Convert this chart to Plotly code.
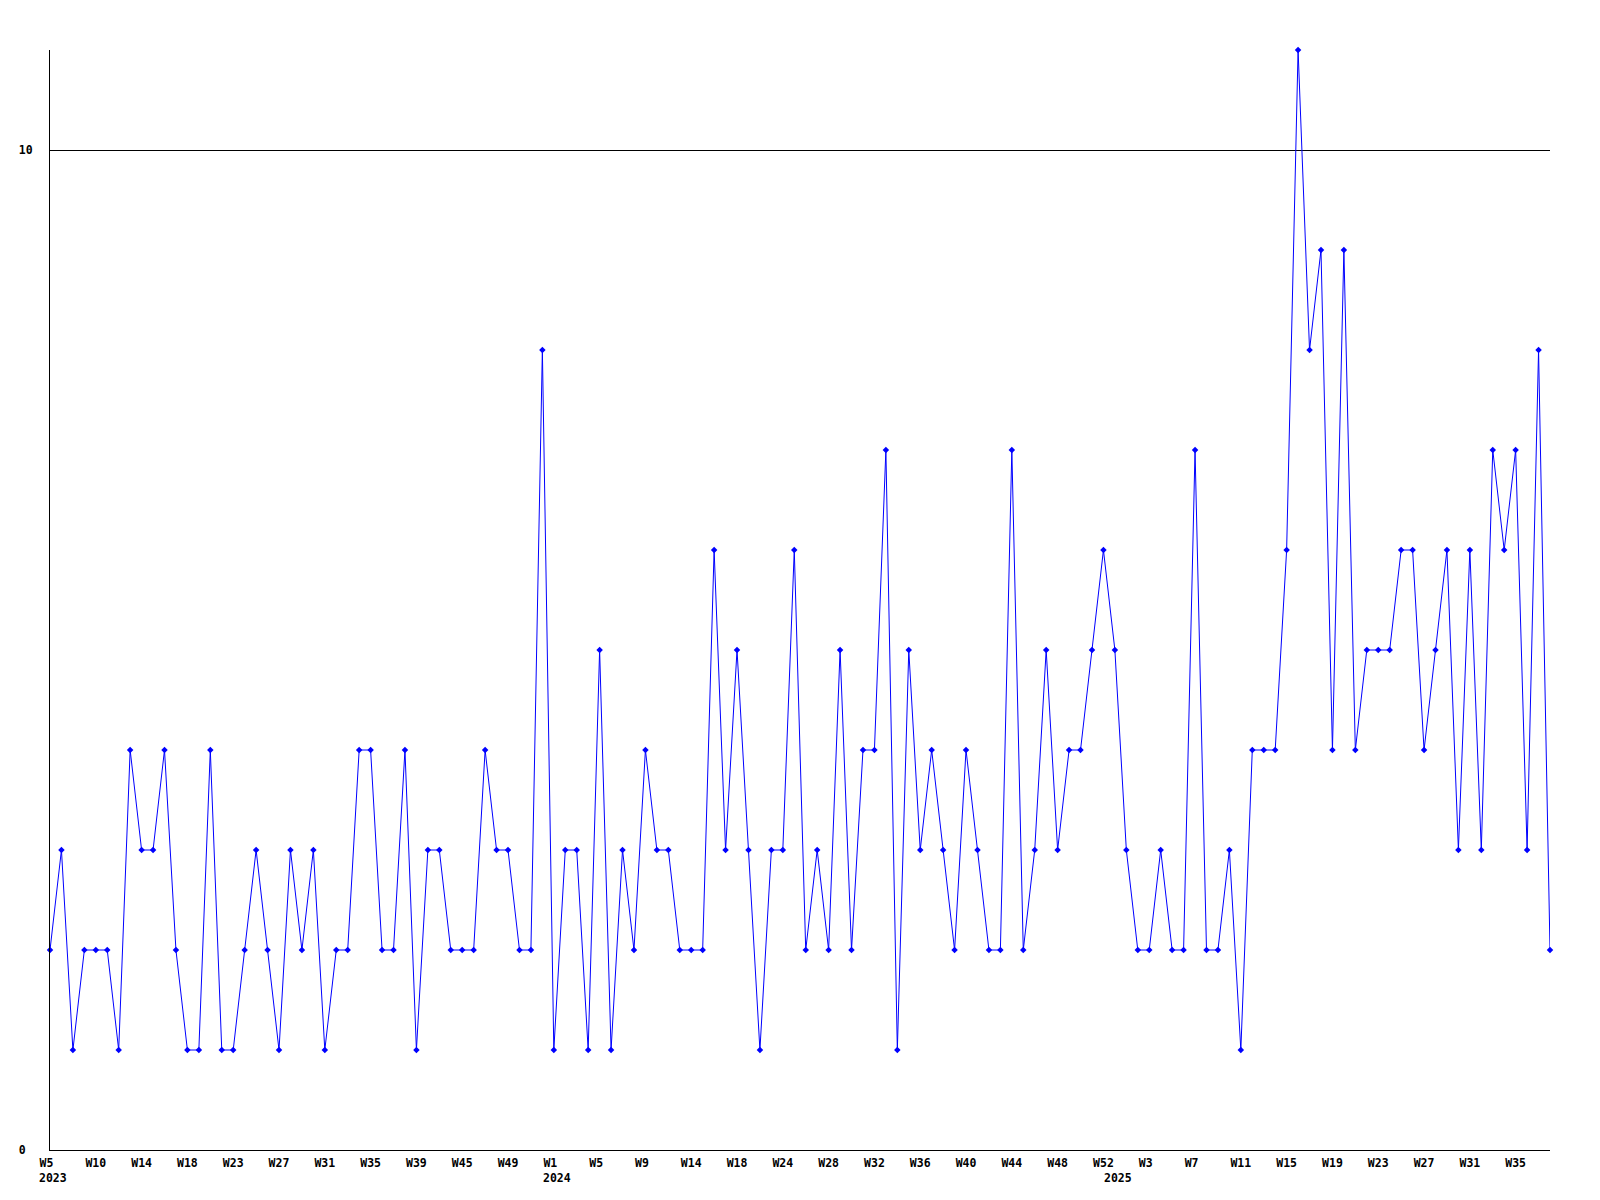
import plotly.graph_objects as go

# weekly counts, one value per point
values = [
    2, 3, 1, 2, 2, 2, 1, 4, 3, 3, 4, 2, 1, 1, 4, 1, 1, 2, 3, 2,
    1, 3, 2, 3, 1, 2, 2, 4, 4, 2, 2, 4, 1, 3, 3, 2, 2, 2, 4, 3,
    3, 2, 2, 8, 1, 3, 3, 1, 5, 1, 3, 2, 4, 3, 3, 2, 2, 2, 6, 3,
    5, 3, 1, 3, 3, 6, 2, 3, 2, 5, 2, 4, 4, 7, 1, 5, 3, 4, 3, 2,
    4, 3, 2, 2, 7, 2, 3, 5, 3, 4, 4, 5, 6, 5, 3, 2, 2, 3, 2, 2,
    7, 2, 2, 3, 1, 4, 4, 4, 6, 11, 8, 9, 4, 9, 4, 5, 5, 5, 6, 6,
    4, 5, 6, 3, 6, 3, 7, 6, 7, 3, 8, 2,
]

# one x label every 4 points
week_labels = [
    "W5", "W10", "W14", "W18", "W23", "W27", "W31", "W35", "W39", "W45", "W49",
    "W1", "W5", "W9", "W14", "W18", "W24", "W28", "W32", "W36", "W40", "W44", "W48", "W52",
    "W3", "W7", "W11", "W15", "W19", "W23", "W27", "W31", "W35",
]
label_step = 4

years = ["2023", "2024", "2025"]
year_start_index = [0, 44, 93]

y_ticks = [0, 10]

FONT = dict(family="DejaVu Sans Mono", size=11.5, color="black", weight="bold")
NBSP = "\u00a0"

x = list(range(len(values)))
tickvals = [i * label_step for i in range(len(week_labels))]
# pad two-char labels so all start at the same offset from their point
ticktext = [w if len(w) >= 3 else w + NBSP for w in week_labels]

fig = go.Figure(go.Scatter(
    x=x, y=values, mode="lines+markers",
    line=dict(color="#0000ff", width=1),
    marker=dict(symbol="diamond", size=5, color="#0000ff"),
    cliponaxis=False, showlegend=False,
))

for yr, idx in zip(years, year_start_index):
    fig.add_annotation(
        x=idx, y=0, xref="x", yref="paper", text=yr, showarrow=False,
        xanchor="left", yanchor="top", xshift=-13, yshift=-19, font=FONT,
    )

# page body has an 8px margin, so the figure is trimmed by that much
fig.update_layout(
    width=1592, height=1192,
    margin=dict(l=42, r=50, t=42, b=50),
    paper_bgcolor="white", plot_bgcolor="white",
    font=FONT,
    xaxis=dict(
        range=[0, len(values) - 1], tickvals=tickvals, ticktext=ticktext,
        ticks="", showgrid=False, zeroline=False,
        showline=True, linecolor="black", linewidth=1,
        tickfont=FONT, ticklabelstandoff=2,
    ),
    yaxis=dict(
        range=[0, 11], tickvals=y_ticks,
        ticktext=[f"{v}" if v >= 10 else f"{v}{NBSP}" for v in y_ticks],
        ticks="", showgrid=True, gridcolor="black", gridwidth=1, zeroline=False,
        showline=True, linecolor="black", linewidth=1,
        tickfont=FONT, ticklabelstandoff=14,
    ),
)

fig.write_html("out.html", config=dict(displayModeBar=False))
